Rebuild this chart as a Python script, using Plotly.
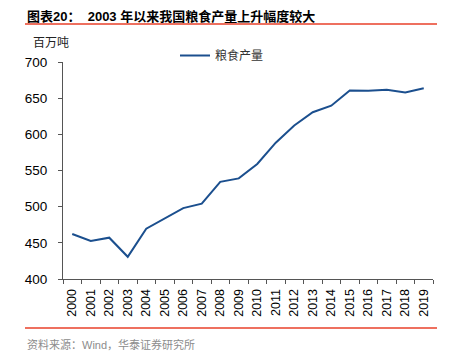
import plotly.graph_objects as go

years = [str(y) for y in range(2000, 2020)]
grain = [462.2, 452.6, 457.1, 430.7, 469.5, 484.0, 498.0, 504.2, 534.3, 539.1,
         559.1, 588.5, 612.2, 630.5, 639.6, 660.6, 660.4, 661.6, 657.9, 663.8]
series_name = "粮食产量"
title_text = "<b>图表20：  2003 年以来我国粮食产量上升幅度较大</b>"
unit_text = "百万吨"
source_text = "资料来源：Wind，华泰证券研究所"

W, H = 453, 361
L, R, T, B = 63, 433, 62, 279

def px(x):
    return (x - L) / (R - L)

def py(y):
    return (B - y) / (B - T)

fig = go.Figure()
fig.add_trace(go.Scatter(x=years, y=grain, mode="lines", name=series_name,
                         line=dict(color="#1B4F8E", width=2)))

fig.update_layout(
    width=W, height=H,
    margin=dict(l=L, r=W - R, t=T, b=H - B),
    plot_bgcolor="white", paper_bgcolor="white",
    font=dict(family="Liberation Sans, Arial, Noto Sans CJK SC", size=13, color="#000"),
    showlegend=True,
    legend=dict(x=px(175), y=py(41), xanchor="left", yanchor="top",
                bgcolor="rgba(0,0,0,0)",
                font=dict(family="Noto Sans CJK SC", size=12, color="#333")),
    xaxis=dict(type="category", range=[-0.5, len(years) - 0.5],
               tickson="boundaries", ticks="outside", ticklen=4,
               tickcolor="#555", showline=True, linecolor="#555", linewidth=1,
               showgrid=False, tickangle=-90, tickfont=dict(size=12.5),
               ticklabelstandoff=4, zeroline=False),
    yaxis=dict(range=[400, 700], dtick=50, ticks="outside", ticklen=4,
               tickcolor="#555", showline=True, linecolor="#555", linewidth=1,
               showgrid=False, zeroline=False, tickfont=dict(size=13.5),
               ticklabelstandoff=8),
)

fig.add_annotation(text=title_text, x=px(25), y=py(16), xref="paper", yref="paper",
                   xanchor="left", yanchor="middle", showarrow=False,
                   font=dict(family="Liberation Sans, Noto Sans CJK SC", size=13, color="#000"))
fig.add_annotation(text=unit_text, x=px(31), y=py(41), xref="paper", yref="paper",
                   xanchor="left", yanchor="middle", showarrow=False,
                   font=dict(family="Noto Sans CJK SC", size=12, color="#222"))
fig.add_annotation(text=source_text, x=px(25), y=py(344), xref="paper", yref="paper",
                   xanchor="left", yanchor="middle", showarrow=False,
                   font=dict(family="Liberation Sans, Noto Sans CJK SC", size=11, color="#8C8C8C"))

for yline in (24, 328):
    fig.add_shape(type="line", xref="paper", yref="paper",
                  x0=px(25), x1=px(437), y0=py(yline), y1=py(yline),
                  line=dict(color="#E8402A", width=1.3))

fig.write_html("out.html", config={"displayModeBar": False},
               post_script="document.body.style.margin='0';")
